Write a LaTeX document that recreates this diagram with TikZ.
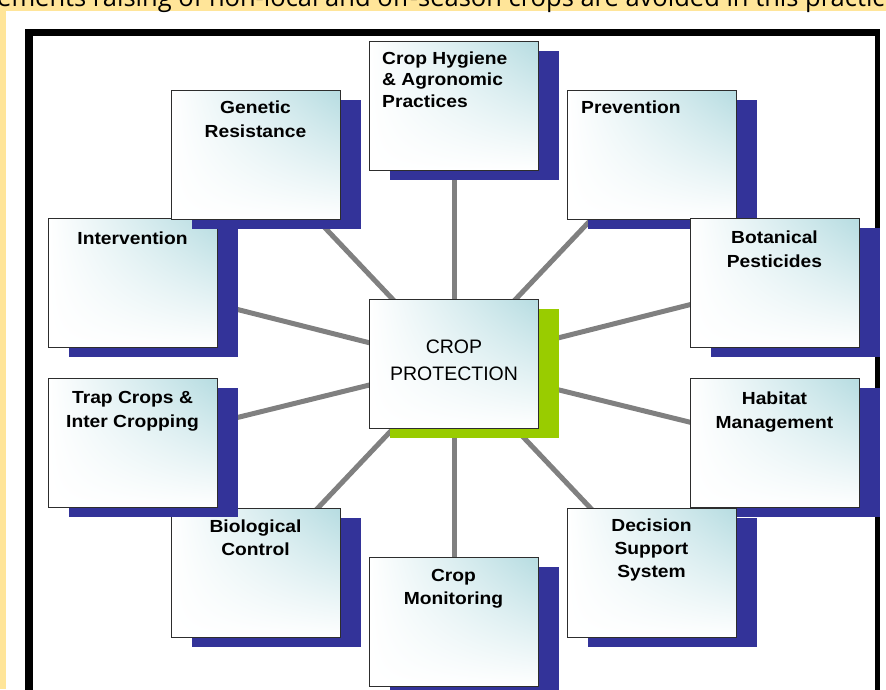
\documentclass[tikz,border=0pt]{standalone}
\usepackage{fontspec}
\usetikzlibrary{shadings}
\setmainfont{Liberation Sans}
\newfontfamily\boxfont[FakeStretch=1.1]{Liberation Sans}
\newfontfamily\notefont{Open Sans}
\pgfdeclarelayer{bg}
\pgfsetlayers{bg,main}

\definecolor{noteyellow}{RGB}{255,229,153}
\definecolor{shadowblue}{RGB}{51,51,153}
\definecolor{hubgreen}{RGB}{153,204,0}
\definecolor{boxteal}{RGB}{182,220,225}
\definecolor{spokegray}{RGB}{128,128,128}
\definecolor{edgegray}{RGB}{45,45,45}

\tikzset{
  panel/.style={draw=edgegray, line width=1.3, shade,
    upper left=white, upper right=boxteal, lower left=white, lower right=white,
    minimum width=169, minimum height=129, inner sep=0, anchor=north west},
  boxtext/.style={inner sep=0, text=black},
  spokeline/.style={draw=spokegray, line width=5},
}
% shadow + panel: name, x, y, shadow colour
\newcommand\panelat[4]{%
  \fill[#4, shift={(21,10)}] (#2,#3) rectangle ++(169,129);
  \node[panel] (#1) at (#2,#3) {};}
\newcommand\bfont[1]{\boxfont\bfseries\fontsize{17.5}{#1}\selectfont}

\begin{document}
\begin{tikzpicture}[x=1pt,y=-1pt]
\useasboundingbox (0,0) rectangle (886,689);
\clip (0,0) rectangle (886,689);

% page background and the note line above the figure
\fill[noteyellow] (0,0) rectangle (886,11);
\fill[noteyellow] (0,0) rectangle (6,689);
\node[anchor=base west, inner sep=0, font=\notefont\fontsize{25.5}{30}\selectfont] (note) at (-3,6)
  {ements raising of non-local and off-season crops are avoided in this practice};

% figure frame
\fill[black] (25,29) rectangle (33,700);
\fill[black] (25,29) rectangle (880,36);
\fill[black] (875,29) rectangle (880,700);

% hub
\panelat{hub}{369}{299}{hubgreen}
\node[boxtext, anchor=north, align=center, font=\fontsize{19.5}{26.7}\selectfont] (hubtxt) at (454,340) {CROP\\PROTECTION};

% surrounding panels
\panelat{inter}{48}{218}{shadowblue}
\node[boxtext, anchor=north, align=center, font=\bfont{24}] (intertxt) at (132.5,231.5) {Intervention};

\panelat{gen}{171}{90}{shadowblue}
\node[boxtext, anchor=north, align=center, font=\bfont{24}] (gentxt) at (255.5,100.5) {Genetic\\Resistance};

\panelat{hyg}{369}{41}{shadowblue}
\node[boxtext, anchor=north west, align=left, font=\bfont{21.5}] (hygtxt) at (382,51.5) {Crop Hygiene\\\& Agronomic\\Practices};

\panelat{prev}{567}{90}{shadowblue}
\node[boxtext, anchor=north west, align=left, font=\bfont{24}] (prevtxt) at (581,100.5) {Prevention};

\panelat{bot}{690}{218}{shadowblue}
\node[boxtext, anchor=north, align=center, font=\bfont{24}] (bottxt) at (774.5,230.5) {Botanical\\Pesticides};

\panelat{hab}{690}{378}{shadowblue}
\node[boxtext, anchor=north, align=center, font=\bfont{24}] (habtxt) at (774.5,391.5) {Habitat\\Management};

\panelat{dss}{567}{508}{shadowblue}
\node[boxtext, anchor=north, align=center, font=\bfont{22.7}] (dsstxt) at (651.5,519) {Decision\\Support\\System};

\panelat{mon}{369}{557}{shadowblue}
\node[boxtext, anchor=north, align=center, font=\bfont{23}] (montxt) at (453.5,569.5) {Crop\\Monitoring};

\panelat{bio}{171}{508}{shadowblue}
\node[boxtext, anchor=north, align=center, font=\bfont{23}] (biotxt) at (255.5,519.5) {Biological\\Control};

\panelat{trap}{48}{378}{shadowblue}
\node[boxtext, anchor=north, align=center, font=\bfont{24}] (traptxt) at (132.5,391.5) {Trap Crops \&\\Inter Cropping};

% spokes from the hub to every panel
\begin{pgfonlayer}{bg}
  \foreach \p in {gen,hyg,prev,inter,bot,trap,hab,bio,dss,mon}
    \draw[spokeline] (hub.center) -- (\p.center);
\end{pgfonlayer}
\end{tikzpicture}
\end{document}
